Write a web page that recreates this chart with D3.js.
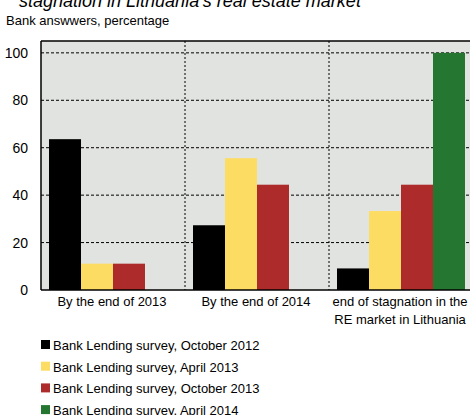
<!DOCTYPE html>
<html lang="en">
<head>
<meta charset="UTF-8">
<script src="https://cdn.jsdelivr.net/npm/d3@7"></script>
<style>
  body { margin: 0; background: #fff; }
  svg { display: block; font-family: "Liberation Sans Narrow", "Arial Narrow", "Liberation Sans", sans-serif; }
</style>
</head>
<body>
<div id="chart"></div>
<script>
// categories (x groups), each label split into lines
const categories = ["By the end of 2013", "By the end of 2014", "end of stagnation in the|RE market in Lithuania"];
// series names
const seriesNames = [
  "Bank Lending survey, October 2012",
  "Bank Lending survey, April 2013",
  "Bank Lending survey, October 2013",
  "Bank Lending survey, April 2014"
];
const seriesColors = ["#000000", "#fddc64", "#ae2b2b", "#257630"];
// values per series, one per category (null = no answer)
const oct2012 = [63.6, 27.3, 9.1];
const apr2013 = [11.1, 55.6, 33.3];
const oct2013 = [11.1, 44.4, 44.4];
const apr2014 = [null, null, 100];
const yTicks = [0, 20, 40, 60, 80, 100];

const seriesValues = [oct2012, apr2013, oct2013, apr2014];

const W = 470, H = 415;
const plot = { left: 41, top: 41, right: 473, bottom: 290 };

const svg = d3.select("#chart").append("svg")
  .attr("width", W).attr("height", H);

// title (second line, partially cut at top) and subtitle
svg.append("text").attr("x", 19).attr("y", 7)
  .style("font-family", "Liberation Sans, Arial, sans-serif")
  .style("font-style", "italic").style("font-size", "18px")
  .text("stagnation in Lithuania\u2019s real estate market");
svg.append("text").attr("x", 6).attr("y", 25)
  .style("font-size", "13px").text("Bank answwers, percentage");

// scales
const y = d3.scaleLinear().domain([0, 105]).range([plot.bottom, plot.top]);
const x0 = d3.scaleBand().domain(d3.range(categories.length))
  .range([plot.left, plot.right]).paddingInner(0).paddingOuter(0);
const x1 = d3.scaleBand().domain(d3.range(seriesNames.length))
  .range([0, x0.bandwidth()]).paddingOuter(0.25).paddingInner(0);

// background
svg.append("rect").attr("x", plot.left).attr("y", plot.top)
  .attr("width", plot.right - plot.left).attr("height", plot.bottom - plot.top)
  .attr("fill", "#e1e3e0");

// horizontal dashed gridlines
svg.selectAll(".hgrid").data(yTicks.filter(d => d > 0)).enter().append("line")
  .attr("x1", plot.left).attr("x2", plot.right)
  .attr("y1", d => y(d)).attr("y2", d => y(d))
  .attr("stroke", "#000").attr("stroke-width", 1).attr("stroke-dasharray", "3,2");

// vertical dotted group separators
svg.selectAll(".vgrid").data(d3.range(1, categories.length)).enter().append("line")
  .attr("x1", d => x0(d)).attr("x2", d => x0(d))
  .attr("y1", plot.top).attr("y2", plot.bottom)
  .attr("stroke", "#000").attr("stroke-width", 1).attr("stroke-dasharray", "2,2");

// bars
const groups = svg.selectAll(".grp").data(categories).enter().append("g")
  .attr("transform", (d, i) => `translate(${x0(i)},0)`);
groups.each(function(c, ci) {
  const g = d3.select(this);
  seriesValues.forEach((vals, si) => {
    const v = vals[ci];
    if (v == null) return;
    g.append("rect")
      .attr("x", x1(si)).attr("width", x1.bandwidth())
      .attr("y", y(v)).attr("height", y(0) - y(v))
      .attr("fill", seriesColors[si]);
  });
});

// frame: top, left, bottom
svg.append("line").attr("x1", plot.left).attr("x2", plot.right)
  .attr("y1", plot.top).attr("y2", plot.top).attr("stroke", "#000").attr("stroke-width", 1.5);
svg.append("line").attr("x1", plot.left).attr("x2", plot.left)
  .attr("y1", plot.top).attr("y2", plot.bottom).attr("stroke", "#000").attr("stroke-width", 1.5);
svg.append("line").attr("x1", plot.left).attr("x2", plot.right)
  .attr("y1", plot.bottom).attr("y2", plot.bottom).attr("stroke", "#000").attr("stroke-width", 1.5);

// y tick labels
svg.selectAll(".ylab").data(yTicks).enter().append("text")
  .attr("x", 28).attr("y", d => y(d) + 5)
  .attr("text-anchor", "end").style("font-size", "14px")
  .text(d => d);

// x category labels
svg.selectAll(".xlab").data(categories).enter().append("text")
  .attr("text-anchor", "middle").style("font-size", "13px")
  .attr("transform", (d, i) => `translate(${x0(i) + x0.bandwidth() / 2 - 1},0)`)
  .each(function(d) {
    d.split("|").forEach((line, li) => {
      d3.select(this).append("tspan").attr("x", 0).attr("y", 306 + li * 18).text(line);
    });
  });

// legend
const legend = svg.selectAll(".leg").data(seriesNames).enter().append("g")
  .attr("transform", (d, i) => `translate(41,${340 + i * 21.7})`);
legend.append("rect").attr("width", 9).attr("height", 9)
  .attr("fill", (d, i) => seriesColors[i]);
legend.append("text").attr("x", 12).attr("y", 10)
  .style("font-size", "13px").text(d => d);
</script>
</body>
</html>
